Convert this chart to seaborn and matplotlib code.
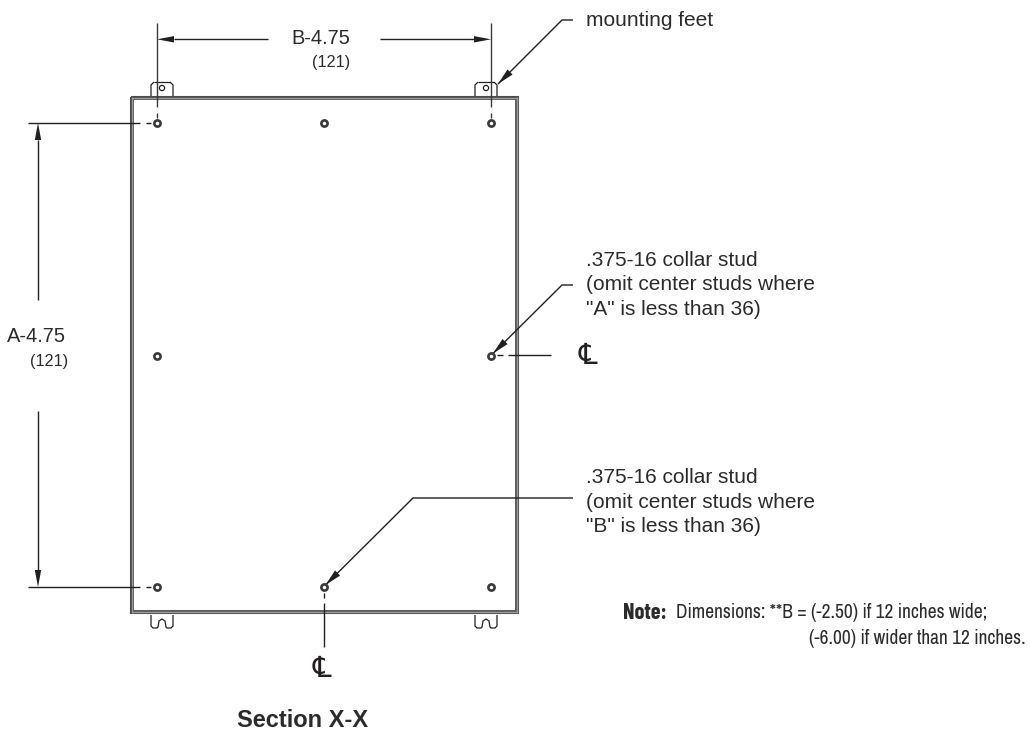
import numpy as np
import pandas as pd
import matplotlib
matplotlib.use("Agg")
import matplotlib.pyplot as plt
from matplotlib.patches import Circle
import seaborn as sns

# collar studs, in drawing units (pixels of the sheet)
stud_x = [157, 323.5, 491, 157, 491, 157, 323.5, 491]
stud_y = [123, 123, 123, 356, 356, 587, 587, 587]

# enclosure outline
panel_left, panel_right, panel_top, panel_bottom = 130.5, 518, 97, 613
foot_x = [151, 475]

# leader lines: (x list, y list), arrow at last point
leader_feet = ([573, 562, 498], [20, 20, 84])
leader_side = ([573, 562, 493], [285, 285, 353.5])
leader_bottom = ([573, 413, 325.5], [498, 498, 585])

label_feet = "mounting feet"
label_side = '.375-16 collar stud\n(omit center studs where\n"A" is less than 36)'
label_bottom = '.375-16 collar stud\n(omit center studs where\n"B" is less than 36)'
note_1 = "Dimensions: **B = (-2.50) if 12 inches wide;"
note_2 = "(-6.00) if wider than 12 inches."

LINE = "#231f20"
sns.set_theme(style="white")
plt.rcParams["font.family"] = ["Liberation Sans", "DejaVu Sans"]

fig = plt.figure(figsize=(10.3, 7.34), dpi=100)
ax = fig.add_axes([0, 0, 1, 1])


def line(xs, ys, lw=1.0, color=LINE):
    ax.plot(xs, ys, color=color, lw=lw, solid_capstyle="butt", solid_joinstyle="miter")


def arrow(tip, tail, width=3.2):
    tip = np.array(tip, dtype=float)
    tail = np.array(tail, dtype=float)
    d = tail - tip
    n = np.array([-d[1], d[0]]) / np.hypot(*d) * width
    ax.fill(*zip(tip, tail + n, tail - n), color=LINE, lw=0)


# enclosure, double wall
for off, lw, col in [(0, 1.5, "#4a4a4a"), (2.4, 1.3, "#4a4a4a")]:
    line([panel_left + off, panel_right - off, panel_right - off, panel_left + off, panel_left + off],
         [panel_top + off, panel_top + off, panel_bottom - off, panel_bottom - off, panel_top + off], lw, col)
line([panel_left + 1.2, panel_right - 1.2], [panel_top + 1.2, panel_top + 1.2], 1.0, "#9a9a9a")
line([panel_left + 1.2, panel_right - 1.2], [panel_bottom - 1.2, panel_bottom - 1.2], 1.0, "#9a9a9a")
line([panel_left + 1.2, panel_left + 1.2], [panel_top, panel_bottom], 1.0, "#9a9a9a")
line([panel_right - 1.2, panel_right - 1.2], [panel_top, panel_bottom], 1.0, "#9a9a9a")

# mounting feet
for fx in foot_x:
    # top foot with round hole
    r = 3
    line([fx, fx, fx + r], [96, 82 + r, 82], 0.9)
    line([fx + r, fx + 22 - r], [82, 82], 0.9)
    line([fx + 22 - r, fx + 22, fx + 22], [82, 82 + r, 96], 0.9)
    ax.add_patch(Circle((fx + 11, 88), 2.6, fill=False, ec=LINE, lw=0.9))
    # bottom foot with slot
    sx = [fx, fx, fx + 2, fx + 6, fx + 7, fx + 8, fx + 11, fx + 14, fx + 15, fx + 16, fx + 20, fx + 22, fx + 22]
    sy = [615, 626, 628, 628, 627, 621, 619, 621, 627, 628, 628, 626, 615]
    line(sx, sy, 0.9)

# extension lines
for ex in [157, 491]:
    line([ex, ex], [23, 107], 1.0, "#3a3a3a")
    line([ex, ex], [112.5, 118], 1.0, "#3a3a3a")
for ey in [123, 587]:
    line([28, 140], [ey, ey], 1.0)
    line([146, 151], [ey, ey], 1.0)

# dimension arrows
line([174, 268], [39.3, 39.3])
line([380, 474], [39.3, 39.3])
arrow((157, 39.3), (174, 39.3))
arrow((491, 39.3), (474, 39.3))
line([38, 38], [140, 300])
line([38, 38], [411, 570])
arrow((38, 123), (38, 140))
arrow((38, 587), (38, 570))

# centre lines
line([497, 503], [355, 355])
line([508, 551], [355, 355])
line([323.5, 323.5], [593, 598])
line([323.5, 323.5], [603, 647])

# leaders
for xs, ys in [leader_feet, leader_side, leader_bottom]:
    line(xs, ys)
    tip = np.array([xs[-1], ys[-1]], dtype=float)
    prev = np.array([xs[-2], ys[-2]], dtype=float)
    arrow(tip, tip + (prev - tip) / np.hypot(*(prev - tip)) * 17, 3.6)

# studs
studs = pd.DataFrame({"x": stud_x, "y": stud_y})
sns.scatterplot(data=studs, x="x", y="y", ax=ax, s=20, color="white", edgecolor="#3a3a3a", linewidth=1.9, zorder=5)
ax.set_xlim(0, 1030)
ax.set_ylim(734, 0)
ax.axis("off")

# centre line symbols
ax.text(588, 356.5, "\u2104", fontsize=21, color=LINE, ha="center", va="center", family="DejaVu Sans")
ax.text(321.5, 669, "\u2104", fontsize=21, color=LINE, ha="center", va="center", family="DejaVu Sans")

# text
TEXT = "#2b2b2b"
ax.text(586, 20, label_feet, fontsize=15, color=TEXT, va="center")
ax.text(586, 285, label_side, fontsize=15, color=TEXT, va="center", linespacing=1.36)
ax.text(586, 502, label_bottom, fontsize=15, color=TEXT, va="center", linespacing=1.36)
ax.text(291.5, 38.5, "B-4.75", fontsize=14.4, color=TEXT, va="center")
ax.text(312, 63, "(121)", fontsize=11.7, color=TEXT, va="center")
ax.text(7, 336.7, "A-4.75", fontsize=14.4, color=TEXT, va="center")
ax.text(30, 361.7, "(121)", fontsize=11.7, color=TEXT, va="center")
ax.text(237, 720.5, "Section X-X", fontsize=17, fontweight="bold", color=TEXT, va="center")
ax.text(623, 613, "Note:", fontsize=16, fontweight="bold", color=TEXT, va="center", family="Barlow Condensed")
ax.text(676, 613, note_1, fontsize=14, color=TEXT, va="center", family="Archivo Narrow")
ax.text(809, 638, note_2, fontsize=14, color=TEXT, va="center", family="Archivo Narrow")

fig.savefig("out.png", dpi=100, facecolor="white")
